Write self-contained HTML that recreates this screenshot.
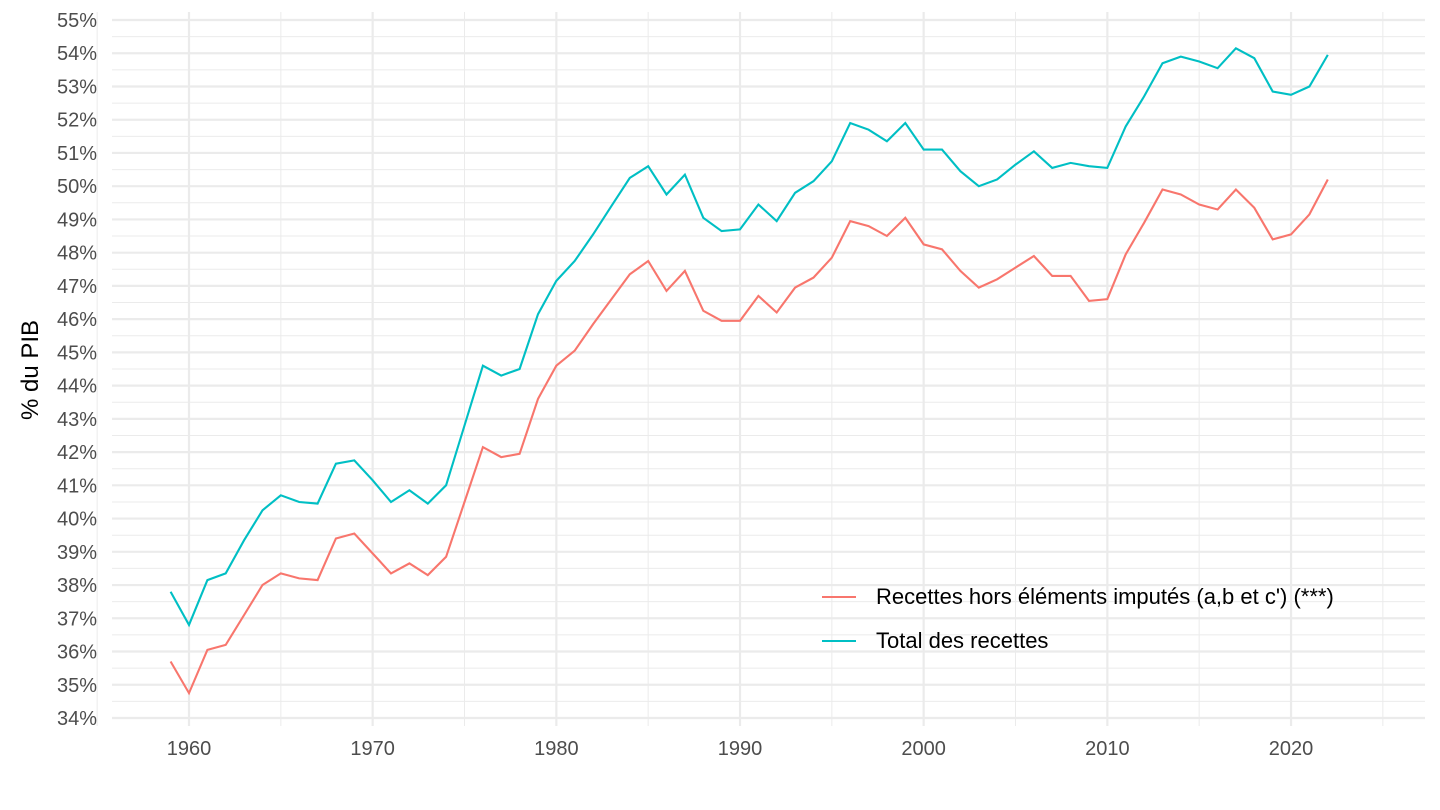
<!DOCTYPE html>
<html><head><meta charset="utf-8"><style>
html,body{margin:0;padding:0;background:#fff;}
svg{display:block;font-family:"Liberation Sans",Arial,sans-serif;}
</style></head><body>
<svg id="c" width="1440" height="810" xmlns="http://www.w3.org/2000/svg"></svg>
<script>
const s=document.getElementById('c');
const X=y=>189+(y-1960)*18.367, Y=v=>20+(55-v)*33.238;
let h='';
for(let v=34.5;v<55;v+=1) h+=`<line x1="112" x2="1425" y1="${Y(v)}" y2="${Y(v)}" stroke="#ebebeb" stroke-width="1"/>`;
for(let y=1955;y<=2025;y+=10) h+=`<line x1="${X(y)}" x2="${X(y)}" y1="12" y2="726" stroke="#ebebeb" stroke-width="1"/>`;
for(let v=34;v<=55;v++) h+=`<line x1="112" x2="1425" y1="${Y(v)}" y2="${Y(v)}" stroke="#ebebeb" stroke-width="2.2"/>`;
for(let y=1960;y<=2020;y+=10) h+=`<line x1="${X(y)}" x2="${X(y)}" y1="12" y2="726" stroke="#ebebeb" stroke-width="2.2"/>`;
for(let v=34;v<=55;v++) h+=`<text x="97" y="${Y(v)+7}" text-anchor="end" font-size="20" fill="#4d4d4d">${v}%</text>`;
for(let y=1960;y<=2020;y+=10) h+=`<text x="${X(y)}" y="755" text-anchor="middle" font-size="20" fill="#4d4d4d">${y}</text>`;
h+=`<text transform="translate(38,370) rotate(-90)" text-anchor="middle" font-size="24" fill="#000">% du PIB</text>`;
const T=[37.8,36.8,38.15,38.35,39.35,40.25,40.7,40.5,40.45,41.65,41.75,41.15,40.5,40.85,40.45,41.0,42.8,44.6,44.3,44.5,46.15,47.15,47.75,48.55,49.4,50.25,50.6,49.75,50.35,49.05,48.65,48.7,49.45,48.95,49.8,50.15,50.75,51.9,51.7,51.35,51.9,51.1,51.1,50.45,50.0,50.2,50.65,51.05,50.55,50.7,50.6,50.55,51.8,52.7,53.7,53.9,53.75,53.55,54.15,53.85,52.85,52.75,53.0,53.95];
const R=[35.7,34.75,36.05,36.2,37.1,38.0,38.35,38.2,38.15,39.4,39.55,38.95,38.35,38.65,38.3,38.85,40.5,42.15,41.85,41.95,43.6,44.6,45.05,45.85,46.6,47.35,47.75,46.85,47.45,46.25,45.95,45.95,46.7,46.2,46.95,47.25,47.85,48.95,48.8,48.5,49.05,48.25,48.1,47.45,46.95,47.2,47.55,47.9,47.3,47.3,46.55,46.6,47.95,48.9,49.9,49.75,49.45,49.3,49.9,49.35,48.4,48.55,49.15,50.2];
const P=a=>a.map((v,i)=>X(1959+i).toFixed(1)+','+Y(v).toFixed(1)).join(' ');
h+=`<polyline points="${P(R)}" fill="none" stroke="#F8766D" stroke-width="2.1"/>`;
h+=`<polyline points="${P(T)}" fill="none" stroke="#00BFC4" stroke-width="2.1"/>`;
h+=`<line x1="822" x2="856" y1="597" y2="597" stroke="#F8766D" stroke-width="2.1"/>`;
h+=`<line x1="822" x2="856" y1="641" y2="641" stroke="#00BFC4" stroke-width="2.1"/>`;
h+=`<text x="876" y="604" font-size="22" fill="#000">Recettes hors éléments imputés (a,b et c') (***)</text>`;
h+=`<text x="876" y="648" font-size="22" fill="#000">Total des recettes</text>`;
s.innerHTML=h;
</script>
</body></html>
